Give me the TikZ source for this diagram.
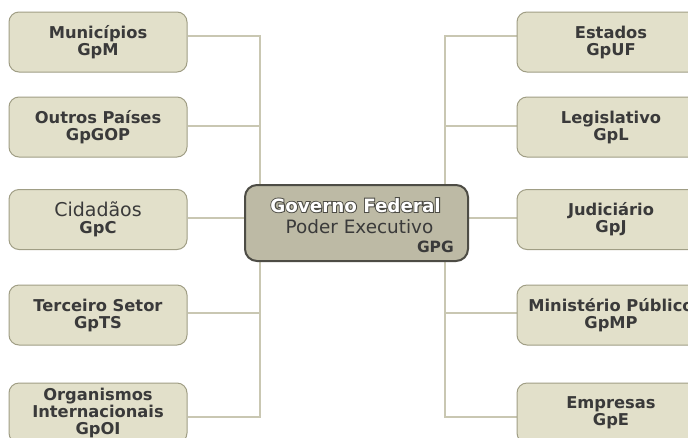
\documentclass[tikz,border=0pt]{standalone}
\usepackage{fontspec}
\setmainfont{DejaVu Sans}
\newfontfamily\gfontout[FakeBold=10]{DejaVu Sans Bold}
\newfontfamily\gfont{DejaVu Sans Bold}
\usetikzlibrary{backgrounds}
\definecolor{boxfill}{HTML}{E2E0CA}
\definecolor{boxline}{HTML}{A09E85}
\definecolor{cfill}{HTML}{BDBAA5}
\definecolor{cline}{HTML}{4D4C45}
\definecolor{linkc}{HTML}{C9C7B2}
\definecolor{txt}{HTML}{3A3A3A}
\begin{document}
\begin{tikzpicture}[x=1pt,y=-1pt,
  box/.style={draw=boxline, fill=boxfill, rounded corners=10pt, line width=1pt,
    minimum width=178pt, minimum height=60pt, align=center, text=txt, inner sep=0pt,
    font=\bfseries\fontsize{16.3}{17}\selectfont},
  rbox/.style={box, minimum width=188pt},
  link/.style={draw=linkc, line width=1.3pt},
  ctr/.style={draw=cline, fill=cfill, rounded corners=12pt, line width=2pt,
    minimum width=223pt, minimum height=76pt, inner sep=0pt}]
\useasboundingbox (0,0) rectangle (688,437);
\clip (0,0) rectangle (688,437);
\coordinate (spL) at (260,0);
\coordinate (spR) at (445,0);
% left boxes
\node[box] (mun) at (98,42) {Municípios\\GpM};
\node[box] (out) at (98,127) {Outros Países\\GpGOP};
\node[box] (cid) at (98,219.5) {{\mdseries\fontsize{19}{19}\selectfont Cidadãos}\\GpC};
\node[box] (ter) at (98,315) {Terceiro Setor\\GpTS};
\node[box] (org) at (98,413) {Organismos\\Internacionais\\GpOI};
% right boxes
\node[rbox] (est) at (611,42) {Estados\\GpUF};
\node[rbox] (leg) at (611,127) {Legislativo\\GpL};
\node[rbox] (jud) at (611,219.5) {Judiciário\\GpJ};
\node[rbox] (mp) at (611,315) {Ministério Público\\GpMP};
\node[rbox] (emp) at (611,413) {Empresas\\GpE};
% center
\node[ctr] (gov) at (356.5,223) {};
\node[anchor=base, inner sep=0pt, text=cline, font=\gfontout\fontsize{18.3}{20}\selectfont] (gfo) at (355.5,212) {Governo Federal};
\node[anchor=base, inner sep=0pt, text=white, font=\gfont\fontsize{18.3}{20}\selectfont] (gf) at (gfo.base) {Governo Federal};
\node[anchor=base, inner sep=0pt, text=txt, font=\fontsize{18.4}{20}\selectfont] (pe) at (359.5,233) {Poder Executivo};
\node[anchor=base east, inner sep=0pt, text=txt, font=\bfseries\fontsize{15.5}{17}\selectfont] (gpg) at (454,252) {GPG};
\begin{scope}[on background layer]
\fill[white] (0,0) rectangle (688,437);
\draw[link] ([yshift=6pt]mun.east) -- ([yshift=6pt]mun.east -| spL) -- ([yshift=-4pt]org.east -| spL) -- ([yshift=-4pt]org.east);
\draw[link] ([yshift=1pt]out.east) -- ([yshift=1pt]out.east -| spL);
\draw[link] ([yshift=2pt]ter.east) -- ([yshift=2pt]ter.east -| spL);
\draw[link] ([yshift=5pt]gov.west) -- ([yshift=5pt]gov.west -| cid.east);
\draw[link] ([yshift=6pt]est.west) -- ([yshift=6pt]est.west -| spR) -- ([yshift=-4pt]emp.west -| spR) -- ([yshift=-4pt]emp.west);
\draw[link] ([yshift=1pt]leg.west) -- ([yshift=1pt]leg.west -| spR);
\draw[link] ([yshift=2pt]mp.west) -- ([yshift=2pt]mp.west -| spR);
\draw[link] ([yshift=5pt]gov.east) -- ([yshift=5pt]gov.east -| jud.west);
\end{scope}
\end{tikzpicture}
\end{document}
